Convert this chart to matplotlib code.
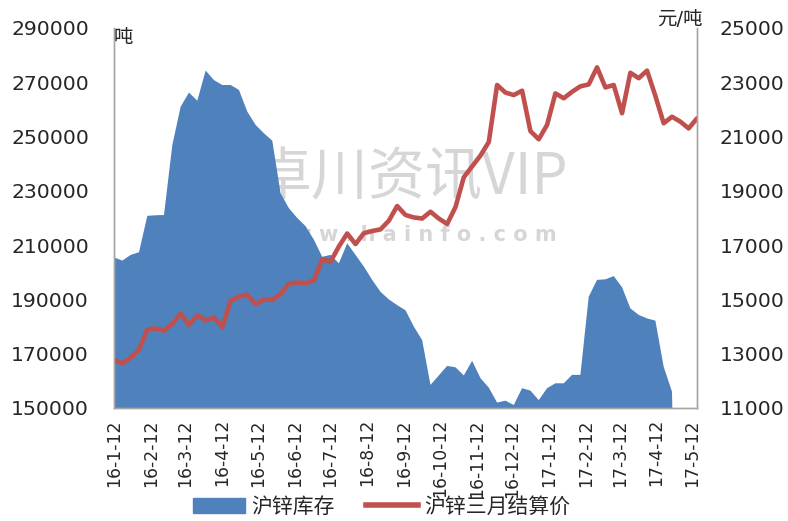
import matplotlib
matplotlib.use('Agg')
import matplotlib.pyplot as plt
import pandas as pd
from matplotlib.patches import Patch
from matplotlib.lines import Line2D

plt.rcParams['font.family'] = ['DejaVu Sans', 'Noto Sans CJK SC']

# weekly dates
dates = pd.date_range('2016-01-12', periods=71, freq='7D')

# 沪锌库存 (吨)
stock = [205500, 204300, 206400, 207400, 220800, 221000, 221100, 246900, 261000, 266200,
         263200, 274300, 270800, 269000, 269000, 267200, 259200, 254300, 251200, 248500,
         229100, 223600, 220000, 217000, 212000, 205700, 206400, 203300, 210700, 206400,
         202100, 197200, 192800, 190000, 187900, 186000, 180000, 175000, 158500, 162000,
         165500, 165000, 162000, 167400, 161000, 157500, 152000, 152700, 151100, 157300,
         156400, 152900, 157300, 159100, 159100, 162200, 162200, 191000, 197200, 197400,
         198600, 194500, 186700, 184300, 183000, 182200, 165200, 156000, 0, 0,
         0]

# 沪锌三月结算价 (元/吨)
price = [12770, 12650, 12850, 13150, 13900, 13930, 13850, 14100, 14480, 14060,
         14420, 14230, 14330, 13980, 14950, 15100, 15180, 14820, 15000, 14980,
         15200, 15580, 15620, 15600, 15700, 16480, 16390, 16950, 17430, 17040,
         17440, 17520, 17580, 17900, 18440, 18110, 18020, 17980, 18230, 17980,
         17780, 18400, 19500, 19900, 20300, 20800, 22900, 22620, 22530, 22690,
         21200, 20900, 21430, 22590, 22410, 22650, 22850, 22920, 23550, 22810,
         22900, 21860, 23350, 23150, 23430, 22500, 21490, 21730, 21550, 21300,
         21670]

tick_dates = pd.date_range('2016-01-12', '2017-05-12', freq=pd.DateOffset(months=1))
tick_labels = [f"{d.year % 100}-{d.month}-{d.day}" for d in tick_dates]

blue = '#4F81BD'
red = '#C0504D'
grey = '#A6A6A6'

fig = plt.figure(figsize=(7.88, 5.21), dpi=100)
ax = fig.add_axes([0.1447, 0.2169, 0.7398, 0.7294])
ax2 = ax.twinx()

# watermark behind everything
ax.text(0.51, 0.605, '卓川资讯VIP', transform=ax.transAxes, fontsize=41,
        color='#d6d6d6', ha='center', va='center', family='Noto Sans CJK SC', zorder=0)
ax.text(0.51, 0.455, 'w w w . h a i n f o . c o m', transform=ax.transAxes, fontsize=15,
        color='#d6d6d6', ha='center', va='center', fontweight='bold', zorder=0)

ax.fill_between(dates, stock, 0, color=blue, lw=0, zorder=2)
ax2.plot(dates, price, color=red, lw=3.3, solid_joinstyle='round', solid_capstyle='round')

ax.set_ylim(150000, 290000)
ax.set_yticks(range(150000, 290001, 20000))
ax2.set_ylim(11000, 25000)
ax2.set_yticks(range(11000, 25001, 2000))
ax.set_xlim(dates[0], dates[-1])
ax.set_xticks(tick_dates)
ax.set_xticklabels(tick_labels, rotation=90, fontsize=12.4)

for a in (ax, ax2):
    a.tick_params(length=0)
    a.spines['top'].set_visible(False)
    for s in ('left', 'right', 'bottom'):
        a.spines[s].set_color(grey)
        a.spines[s].set_linewidth(1.0)
ax.tick_params(axis='y', labelsize=14.7, pad=18, colors='#262626')
ax2.tick_params(axis='y', labelsize=14.7, pad=16.5, colors='#262626')
ax.tick_params(axis='x', pad=8, colors='#262626')

fig.text(0.1447, 0.928, '吨', fontsize=14, ha='left', va='center', color='#262626')
fig.text(0.8920, 0.962, '元/吨', fontsize=14, ha='right', va='center', color='#262626')

handles = [Patch(color=blue), Line2D([], [], color=red, lw=4)]
fig.legend(handles, ['沪锌库存', '沪锌三月结算价'], loc='center', bbox_to_anchor=(0.484, 0.027),
           ncol=2, frameon=False, fontsize=15, handlelength=2.5, handleheight=0.75,
           columnspacing=1.5, handletextpad=0.3, labelcolor='#262626', borderpad=0.1)

fig.savefig('out.png', dpi=100)
